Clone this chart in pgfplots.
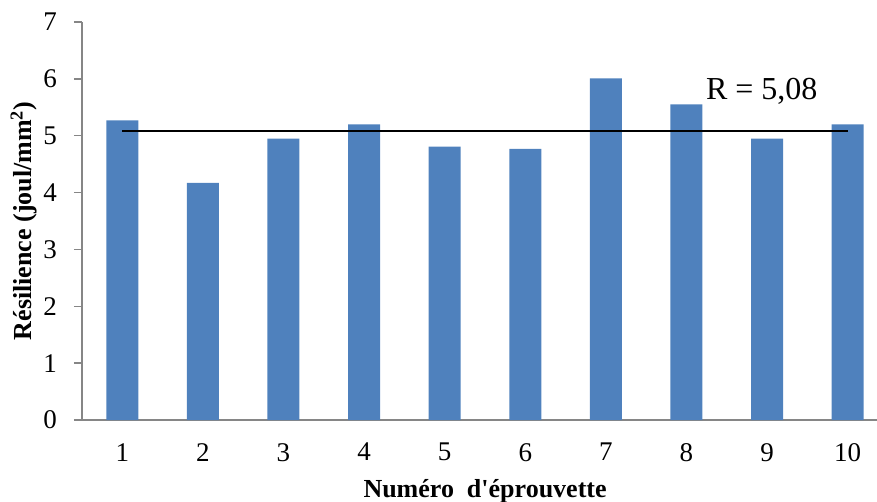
\documentclass[border=0pt]{standalone}
\usepackage{pgfplots}
\pgfplotsset{compat=1.18}
\usepackage{fontspec}
\setmainfont{Liberation Serif}
\definecolor{barblue}{HTML}{4F81BD}
\definecolor{axgray}{HTML}{868686}
\begin{document}
\begin{tikzpicture}
\begin{axis}[
  scale only axis,
  width=795bp, height=398bp,
  xmin=0.5, xmax=10.364,
  ymin=0, ymax=7,
  axis x line*=bottom,
  axis y line*=left,
  axis line style={axgray, line width=1.5bp},
  every tick/.style={axgray, line width=1.5bp},
  tick align=outside,
  ytick={0,1,...,7},
  xtick={1,...,10},
  major tick length=8bp,
  x tick style={draw=none},
  extra x ticks={0.5,1.5,...,9.5},
  extra x tick labels={},
  extra x tick style={major tick length=7bp, tick style={axgray, line width=1.5bp}},
  /pgf/number format/assume math mode=true,
  tick label style={font=\fontsize{27bp}{30bp}\selectfont},
  yticklabel style={anchor=east, inner sep=0pt, xshift=-17bp},
  xticklabel style={anchor=north, inner sep=0pt, yshift=-15bp},
  xlabel={Numéro~~d\textquotesingle éprouvette},
  ylabel={Résilience (joul/mm\textsuperscript{2})},
  label style={font=\bfseries\fontsize{26bp}{30bp}\selectfont},
  xlabel style={at={(axis description cs:0.507,-0.18)}, anchor=center},
  ylabel style={at={(axis description cs:-0.073,0.5)}, anchor=center},
  clip=false,
]
\addplot[ybar, bar width=32bp, fill=barblue, draw=none] coordinates {
  (1,5.27) (2,4.17) (3,4.95) (4,5.20) (5,4.81)
  (6,4.77) (7,6.01) (8,5.55) (9,4.95) (10,5.20)
};
\addplot[black, line width=2bp, mark=none] coordinates {(1,5.08) (10,5.08)};
\node[anchor=base west, inner sep=0pt, font=\fontsize{32bp}{36bp}\selectfont] at (axis cs:8.24,5.63) {R = 5,08};
\end{axis}
\pgfresetboundingbox
\path[use as bounding box] (-82bp,-82bp) rectangle (795bp,420bp);
\end{tikzpicture}
\end{document}
